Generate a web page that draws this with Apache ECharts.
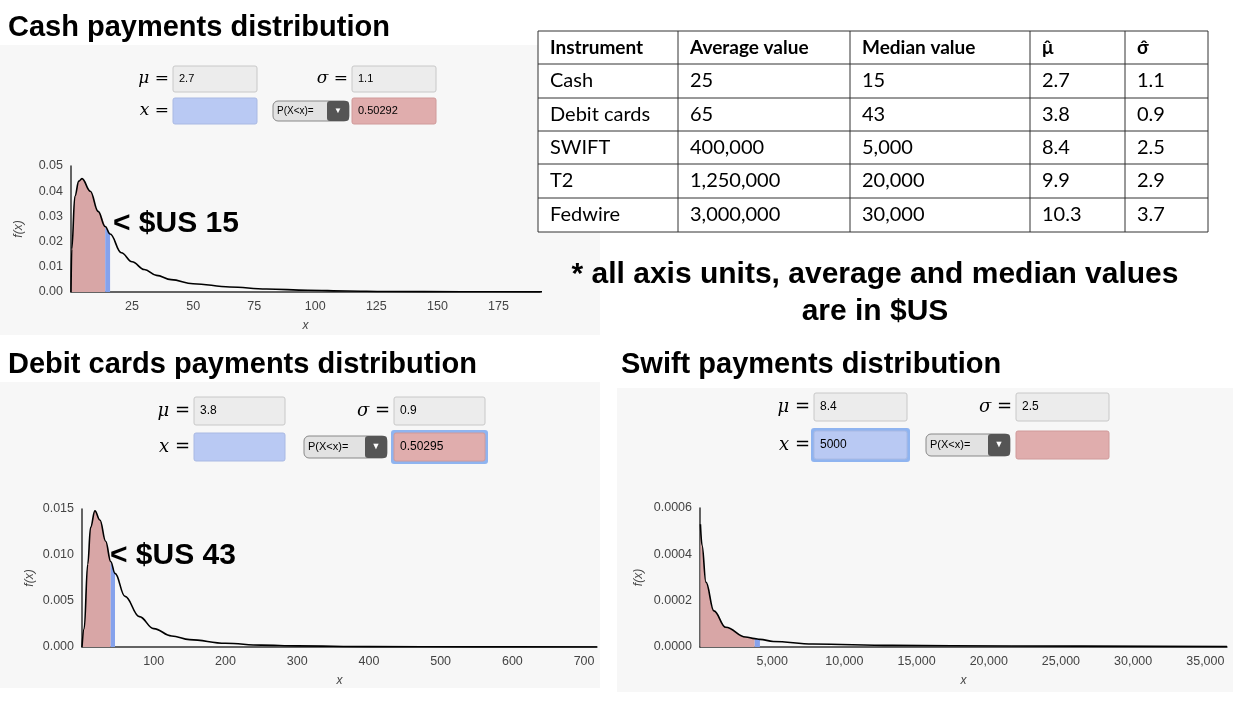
<!DOCTYPE html>
<html><head><meta charset="utf-8">
<script src="https://cdn.jsdelivr.net/npm/echarts@6/dist/echarts.min.js"></script>
<style>html,body{margin:0;padding:0;background:#fff}#c{width:1239px;height:702px}</style>
</head><body><div id="c"></div>
<script>
// Curve points: [x, f(x)]
const cashCurve = [[0,0],[0.3,0.017],[1.6,0.038],[3.2,0.044],[4.5,0.045],[7.9,0.040],[11.1,0.032],[14,0.026],[16,0.023],[20.6,0.0156],[25,0.012],[30,0.0089],[35,0.0066],[41,0.0049],[50,0.0033],[65,0.002],[80,0.0012],[97,0.0007],[113,0.0004],[129,0.00022],[160,0.00008],[193,0.00003]];
const cashCut = [14, 16];
const debitCurve = [[0,0],[3,0.002],[8,0.009],[12,0.013],[18,0.0148],[25,0.0138],[33,0.0115],[40,0.0093],[46,0.008],[60,0.0055],[80,0.0033],[100,0.002],[125,0.0012],[150,0.0008],[200,0.0004],[250,0.0002],[300,0.00012],[400,0.00004],[550,0.00001],[718,0.000003]];
const debitCut = [40, 46];
const swiftCurve = [[30,0.00053],[137,0.00044],[412,0.00028],[960,0.000156],[1784,0.000085],[3157,0.000043],[3790,0.000036],[4150,0.000033],[5078,0.000024],[7823,0.000013],[13313,0.000007],[21548,0.000004],[36500,0.0000018]];
const swiftCut = [3790, 4150];
const tableHeader = ['Instrument','Average value','Median value','μ̂','σ̂'];
const tableRows = [
  ['Cash','25','15','2.7','1.1'],
  ['Debit cards','65','43','3.8','0.9'],
  ['SWIFT','400,000','5,000','8.4','2.5'],
  ['T2','1,250,000','20,000','9.9','2.9'],
  ['Fedwire','3,000,000','30,000','10.3','3.7']
];

function sub(c, a, b){ return c.filter(p => p[0] >= a && p[0] <= b); }
const F = '"Liberation Sans", Arial, sans-serif';
const g = [];
function rect(x,y,w,h,fill,stroke,r,z){ g.push({type:'rect',z:z==null?5:z,shape:{x,y,width:w,height:h,r:r||0},style:{fill,stroke:stroke||null,lineWidth:stroke?1:0}}); }
function txt(x,y,t,size,opts){ g.push({type:'text',z:20,x,y,style:Object.assign({text:t,fontSize:size,fontFamily:F,fill:'#000',verticalAlign:'middle'},opts||{})}); }
rect(0,45,600,290,'#f7f7f7',null,0,0);
rect(0,382,600,306,'#f7f7f7',null,0,0);
rect(617,388,616,304,'#f7f7f7',null,0,0);
txt(8,28,'Cash payments distribution',29,{fontWeight:'bold'});
txt(8,365,'Debit cards payments distribution',29,{fontWeight:'bold'});
txt(621,365,'Swift payments distribution',29,{fontWeight:'bold'});
txt(875,275,'* all axis units, average and median values',30,{fontWeight:'bold',align:'center'});
txt(875,312,'are in $US',30,{fontWeight:'bold',align:'center'});
txt(113,224,'< $US 15',30,{fontWeight:'bold'});
txt(110,556,'< $US 43',30,{fontWeight:'bold'});
function widgets(p){
  const serif = {fontFamily:'"DejaVu Serif", serif',fontStyle:'italic',align:'right'};
  txt(p.mx-4,p.y1+p.h/2,'μ =',p.fs+6,serif);
  rect(p.mx,p.y1,p.w,p.h,'#ececec','#c8c8c8',2);
  txt(p.mx+6,p.y1+p.h/2,p.mu,p.fs);
  txt(p.sx-4,p.y1+p.h/2,'σ =',p.fs+6,serif);
  rect(p.sx,p.y1,p.w,p.h,'#ececec','#c8c8c8',2);
  txt(p.sx+6,p.y1+p.h/2,p.sg,p.fs);
  txt(p.mx-4,p.y2+p.h/2,'x =',p.fs+6,serif);
  if(p.xb) rect(p.mx-3,p.y2-3,p.w+6,p.h+6,'#8fb4f0',null,3);
  rect(p.mx,p.y2,p.w,p.h,'#b9c9f3','#a9b9e3',2);
  if(p.xv) txt(p.mx+6,p.y2+p.h/2,p.xv,p.fs);
  rect(p.dx,p.y2+3,p.dw,p.h-6,'#e2e2e2','#888',5);
  rect(p.dx+p.dw-22,p.y2+3,22,p.h-6,'#555',null,3);
  txt(p.dx+4,p.y2+p.h/2,'P(X<x)=',p.fs-1);
  txt(p.dx+p.dw-11,p.y2+p.h/2,'▼',p.fs-3,{fill:'#fff',align:'center'});
  if(p.pb) rect(p.sx-3,p.y2-3,p.w+6,p.h+6,'#8fb4f0',null,3);
  rect(p.sx,p.y2,p.w,p.h,'#e0adad','#d09a9a',2);
  if(p.pv) txt(p.sx+6,p.y2+p.h/2,p.pv,p.fs);
}
widgets({mx:173,sx:352,w:84,h:26,y1:66,y2:98,dx:273,dw:76,fs:11,mu:'2.7',sg:'1.1',pv:'0.50292'});
widgets({mx:194,sx:394,w:91,h:28,y1:397,y2:433,dx:304,dw:83,fs:12,mu:'3.8',sg:'0.9',pv:'0.50295',pb:true});
widgets({mx:814,sx:1016,w:93,h:28,y1:393,y2:431,dx:926,dw:84,fs:12,mu:'8.4',sg:'2.5',xv:'5000',xb:true});
const cx=[538,678,850,1030,1125,1208], ry=[31,64,98,131,164,198,232];
rect(538,31,670,201,'#fff','#333',0,5);
for(let i=1;i<cx.length-1;i++) g.push({type:'line',z:6,shape:{x1:cx[i],y1:31,x2:cx[i],y2:232},style:{stroke:'#333',lineWidth:1}});
for(let j=1;j<ry.length-1;j++) g.push({type:'line',z:6,shape:{x1:538,y1:ry[j],x2:1208,y2:ry[j]},style:{stroke:'#333',lineWidth:1}});
const TF='Lato, "Open Sans", sans-serif';
tableHeader.forEach((h,i)=>txt(cx[i]+12,47.5,h,19,{fontWeight:'bold',fontFamily:TF}));
tableRows.forEach((r,j)=>r.forEach((v,i)=>txt(cx[i]+12,(ry[j+1]+ry[j+2])/2,v,20,{fontFamily:TF})));

const grids=[
  {left:71,top:166,width:469,height:126},
  {left:82,top:509,width:515,height:138},
  {left:700,top:508,width:527,height:139}
];
function xAx(i,max,interval,fmt){
  return {type:'value',gridIndex:i,min:0,max,interval,name:'x',nameLocation:'middle',nameGap:28,
    nameTextStyle:{fontStyle:'italic',color:'#444',fontSize:12},
    axisLine:{lineStyle:{color:'#333',width:1.5}},axisTick:{show:false},splitLine:{show:false},
    axisLabel:{color:'#444',fontSize:12.5,showMaxLabel:false,formatter:v=>v===0?'':fmt(v)}};
}
function yAx(i,max,interval,dec){
  return {type:'value',gridIndex:i,min:0,max,interval,name:'f(x)',nameLocation:'middle',nameGap:dec>3?55:46,
    nameTextStyle:{fontStyle:'italic',color:'#444',fontSize:12},
    axisLine:{show:true,lineStyle:{color:'#333',width:1.5}},axisTick:{show:false},splitLine:{show:false},
    axisLabel:{color:'#444',fontSize:12.5,formatter:v=>v.toFixed(dec)}};
}
function seriesFor(i,curve,cut){
  const base={type:'line',xAxisIndex:i,yAxisIndex:i,smooth:0.4,smoothMonotone:'x',symbol:'none'};
  return [
    Object.assign({},base,{data:sub(curve,-1,cut[0]),lineStyle:{opacity:0},areaStyle:{color:'#d8a6a6',opacity:1},z:2}),
    Object.assign({},base,{data:sub(curve,cut[0],cut[1]),lineStyle:{opacity:0},areaStyle:{color:'#85a2ec',opacity:1},z:2}),
    Object.assign({},base,{data:curve,lineStyle:{color:'#000',width:1.6},z:3})
  ];
}
const fmtN = v => v.toLocaleString('en-US');
const chart = echarts.init(document.getElementById('c'));
chart.setOption({
  backgroundColor:'#fff',animation:false,
  grid:grids,
  xAxis:[xAx(0,192,25,fmtN),xAx(1,718,100,fmtN),xAx(2,36500,5000,fmtN)],
  yAxis:[yAx(0,0.05,0.01,2),yAx(1,0.015,0.005,3),yAx(2,0.0006,0.0002,4)],
  series:[...seriesFor(0,cashCurve,cashCut),...seriesFor(1,debitCurve,debitCut),...seriesFor(2,swiftCurve,swiftCut)],
  graphic:g
});
</script></body></html>
